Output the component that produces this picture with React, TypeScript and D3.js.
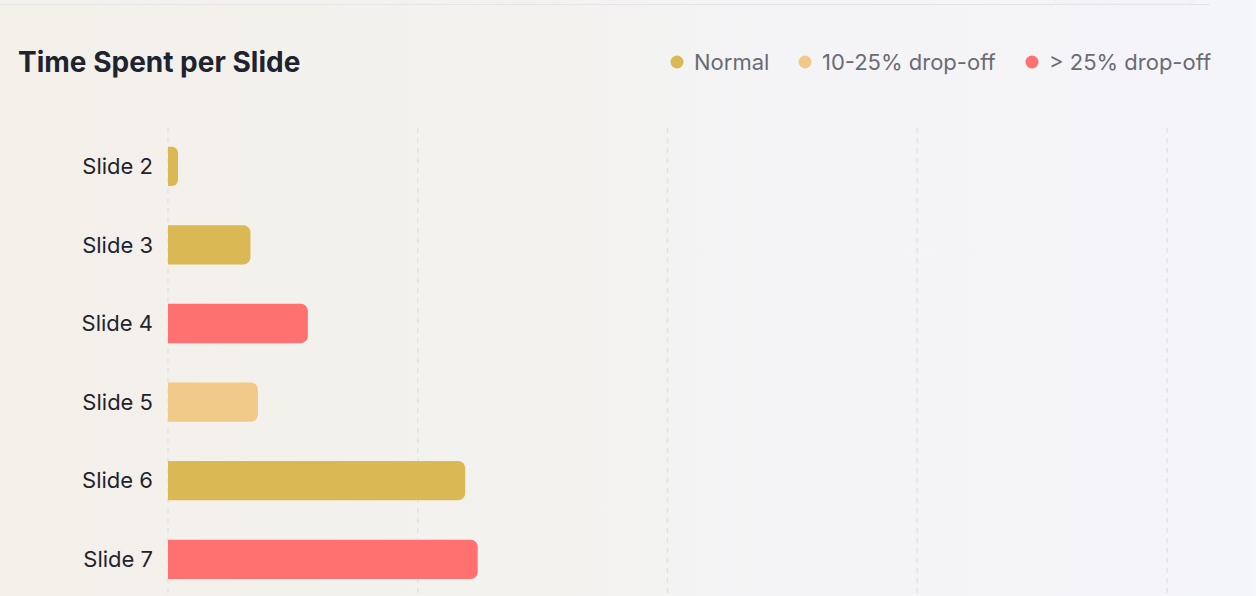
import React from "react";
import * as d3 from "d3";

const slides = ["Slide 2", "Slide 3", "Slide 4", "Slide 5", "Slide 6", "Slide 7"];
const timeSpent = [0.4, 3.3, 5.6, 3.6, 11.9, 12.4];
const status = ["normal", "normal", "high", "mid", "normal", "high"];
const gridTicks = [0, 10, 20, 30, 40];
const legendKeys = ["normal", "mid", "high"];
const legendLabels = ["Normal", "10-25% drop-off", "> 25% drop-off"];
const statusColors: Record<string, string> = { normal: "#dab853", mid: "#f1ca89", high: "#ff7170" };

const W = 1256;
const H = 596;
const FONT = "Inter, 'Noto Sans', sans-serif";

function rightRounded(x0: number, x1: number, y: number, h: number, r: number) {
  const rr = Math.min(r, (x1 - x0) / 2 + 1, h / 2);
  const p = d3.path();
  p.moveTo(x0, y);
  p.lineTo(x1 - rr, y);
  p.arcTo(x1, y, x1, y + rr, rr);
  p.lineTo(x1, y + h - rr);
  p.arcTo(x1, y + h, x1 - rr, y + h, rr);
  p.lineTo(x0, y + h);
  p.closePath();
  return p.toString();
}

export default function App() {
  const x = d3.scaleLinear().domain([0, 40]).range([168, 1167]);
  const y = d3.scaleBand<string>().domain(slides).range([127, 127 + 6 * 78.6]).paddingInner(0.5).paddingOuter(0.25);
  const bw = y.bandwidth();
  const legendX = [677, 805, 1032];

  return (
    <div style={{ position: "fixed", left: 0, top: 0, width: W, height: H, overflow: "hidden" }}>
      <svg width={W} height={H} style={{ display: "block" }}>
        <defs>
          <linearGradient id="bg" x1="0" x2="1" y1="0" y2="0">
            <stop offset="0" stopColor="#f3f0ea" />
            <stop offset="0.45" stopColor="#f3f2ef" />
            <stop offset="0.6" stopColor="#f4f4f6" />
            <stop offset="1" stopColor="#f4f5f9" />
          </linearGradient>
        </defs>
        <rect x={0} y={0} width={W} height={H} fill="url(#bg)" />
        <rect x={1252} y={0} width={4} height={H} fill="#f6f7fa" />
        <rect x={1052} y={-30} width={146} height={34} rx={12} fill="none" stroke="#e2e3e8" strokeDasharray="2 2" />
        <line x1={0} x2={1210} y1={4.5} y2={4.5} stroke="#e3e5ea" strokeWidth={1} />

        <text x={18} y={62} dy="0.35em" fontFamily={FONT} fontWeight={700} fontSize={28} fill="#1f2330">
          Time Spent per Slide
        </text>

        {legendKeys.map((k, i) => (
          <g key={k}>
            <circle cx={legendX[i]} cy={62} r={6.5} fill={statusColors[k]} />
            <text x={legendX[i] + 17} y={62} dy="0.35em" fontFamily={FONT} fontSize={22} fill="#6a6b74">
              {legendLabels[i]}
            </text>
          </g>
        ))}

        {gridTicks.map((t) => (
          <line key={t} x1={x(t)} x2={x(t)} y1={128} y2={H} stroke="#e2e3ea" strokeWidth={1.5} strokeDasharray="5 5" />
        ))}

        {slides.map((s, i) => {
          const yy = y(s)!;
          return (
            <g key={s}>
              <text x={153} y={yy + bw / 2} dy="0.35em" textAnchor="end" fontFamily={FONT} fontSize={22} fill="#1f2330">
                {s}
              </text>
              <path d={rightRounded(x(0), x(timeSpent[i]), yy, bw, 7)} fill={statusColors[status[i]]} />
            </g>
          );
        })}
      </svg>
    </div>
  );
}
